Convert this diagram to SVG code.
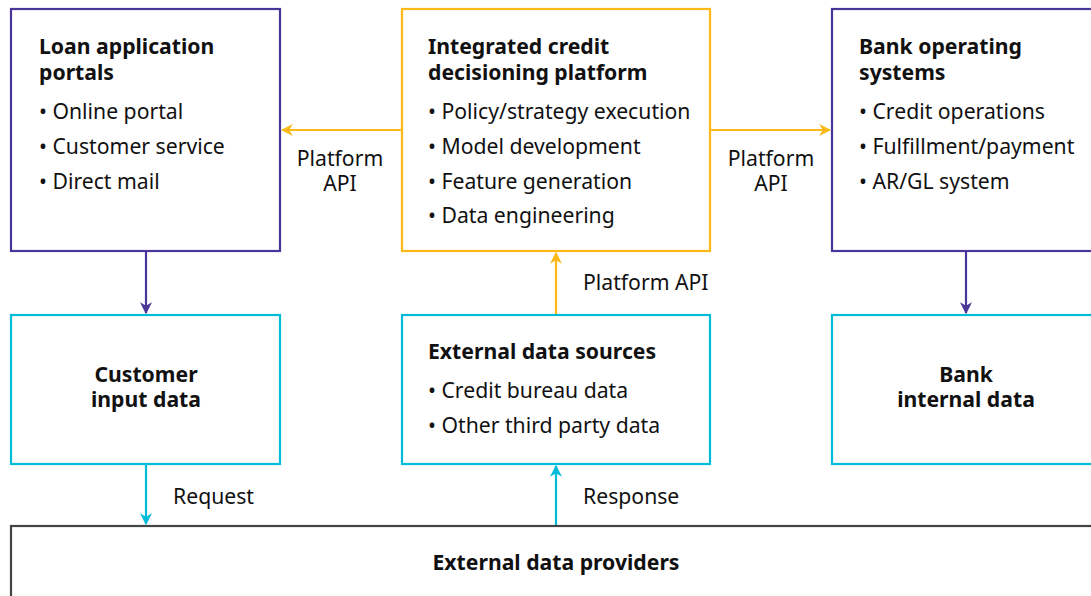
<svg xmlns="http://www.w3.org/2000/svg" width="1091" height="596" viewBox="0 0 1091 596">
  <defs>
    <style>
      text { font-family: "Noto Sans", "Open Sans", "DejaVu Sans", sans-serif; fill: #111; font-size: 21.2px; }
      .title { font-weight: bold; }
      .box { fill: #fff; stroke-width: 2.2; }
      .purple { stroke: #4a3699; }
      .gold { stroke: #fbb817; }
      .cyan { stroke: #00bcd8; }
      .gray { stroke: #444; }
      .line { fill: none; stroke-width: 2.2; }
    </style>
    <marker id="ah-purple" viewBox="0 0 10 10" refX="9" refY="5" markerWidth="5.5" markerHeight="5.5" orient="auto" markerUnits="strokeWidth">
      <path d="M0,0 L10,5 L0,10 L3,5 Z" fill="#4a3699"/>
    </marker>
    <marker id="ah-gold" viewBox="0 0 10 10" refX="9" refY="5" markerWidth="5.5" markerHeight="5.5" orient="auto" markerUnits="strokeWidth">
      <path d="M0,0 L10,5 L0,10 L3,5 Z" fill="#fbb817"/>
    </marker>
    <marker id="ah-cyan" viewBox="0 0 10 10" refX="9" refY="5" markerWidth="5.5" markerHeight="5.5" orient="auto" markerUnits="strokeWidth">
      <path d="M0,0 L10,5 L0,10 L3,5 Z" fill="#00bcd8"/>
    </marker>
  </defs>

  <rect width="1091" height="596" fill="#fff"/>

  <!-- connectors -->
  <g id="connectors">
    <line class="line gold" x1="402" y1="130" x2="282" y2="130" marker-end="url(#ah-gold)"/>
    <line class="line gold" x1="710" y1="130" x2="830" y2="130" marker-end="url(#ah-gold)"/>
    <line class="line purple" x1="146" y1="251" x2="146" y2="313" marker-end="url(#ah-purple)"/>
    <line class="line purple" x1="966" y1="251" x2="966" y2="313" marker-end="url(#ah-purple)"/>
    <line class="line gold" x1="556" y1="315" x2="556" y2="253" marker-end="url(#ah-gold)"/>
    <line class="line cyan" x1="146" y1="464" x2="146" y2="524" marker-end="url(#ah-cyan)"/>
    <line class="line cyan" x1="556" y1="526" x2="556" y2="466" marker-end="url(#ah-cyan)"/>
    <text x="340" y="166" text-anchor="middle">Platform</text>
    <text x="340" y="191" text-anchor="middle">API</text>
    <text x="771" y="166" text-anchor="middle">Platform</text>
    <text x="771" y="191" text-anchor="middle">API</text>
    <text x="583" y="290">Platform API</text>
    <text x="173" y="504">Request</text>
    <text x="583" y="504">Response</text>
  </g>

  <g id="loan-portals">
    <rect class="box purple" x="11" y="9" width="269" height="242"/>
    <text class="title" x="39" y="54">Loan application</text>
    <text class="title" x="39" y="80">portals</text>
    <text x="39" y="119">• Online portal</text>
    <text x="39" y="154">• Customer service</text>
    <text x="39" y="189">• Direct mail</text>
  </g>

  <g id="decision-platform">
    <rect class="box gold" x="402" y="9" width="308" height="242"/>
    <text class="title" x="428" y="54">Integrated credit</text>
    <text class="title" x="428" y="80">decisioning platform</text>
    <text x="428" y="119">• Policy/strategy execution</text>
    <text x="428" y="154">• Model development</text>
    <text x="428" y="189">• Feature generation</text>
    <text x="428" y="223">• Data engineering</text>
  </g>

  <g id="bank-systems">
    <rect class="box purple" x="832" y="9" width="270" height="242"/>
    <text class="title" x="859" y="54">Bank operating</text>
    <text class="title" x="859" y="80">systems</text>
    <text x="859" y="119">• Credit operations</text>
    <text x="859" y="154">• Fulfillment/payment</text>
    <text x="859" y="189">• AR/GL system</text>
  </g>

  <g id="customer-data">
    <rect class="box cyan" x="11" y="315" width="269" height="149"/>
    <text class="title" x="146" y="382" text-anchor="middle">Customer</text>
    <text class="title" x="146" y="407" text-anchor="middle">input data</text>
  </g>

  <g id="external-sources">
    <rect class="box cyan" x="402" y="315" width="308" height="149"/>
    <text class="title" x="428" y="359">External data sources</text>
    <text x="428" y="398">• Credit bureau data</text>
    <text x="428" y="433">• Other third party data</text>
  </g>

  <g id="bank-data">
    <rect class="box cyan" x="832" y="315" width="270" height="149"/>
    <text class="title" x="966" y="382" text-anchor="middle">Bank</text>
    <text class="title" x="966" y="407" text-anchor="middle">internal data</text>
  </g>

  <g id="external-providers">
    <rect class="box gray" x="11" y="526" width="1091" height="80"/>
    <text class="title" x="556" y="570" text-anchor="middle">External data providers</text>
  </g>
</svg>
